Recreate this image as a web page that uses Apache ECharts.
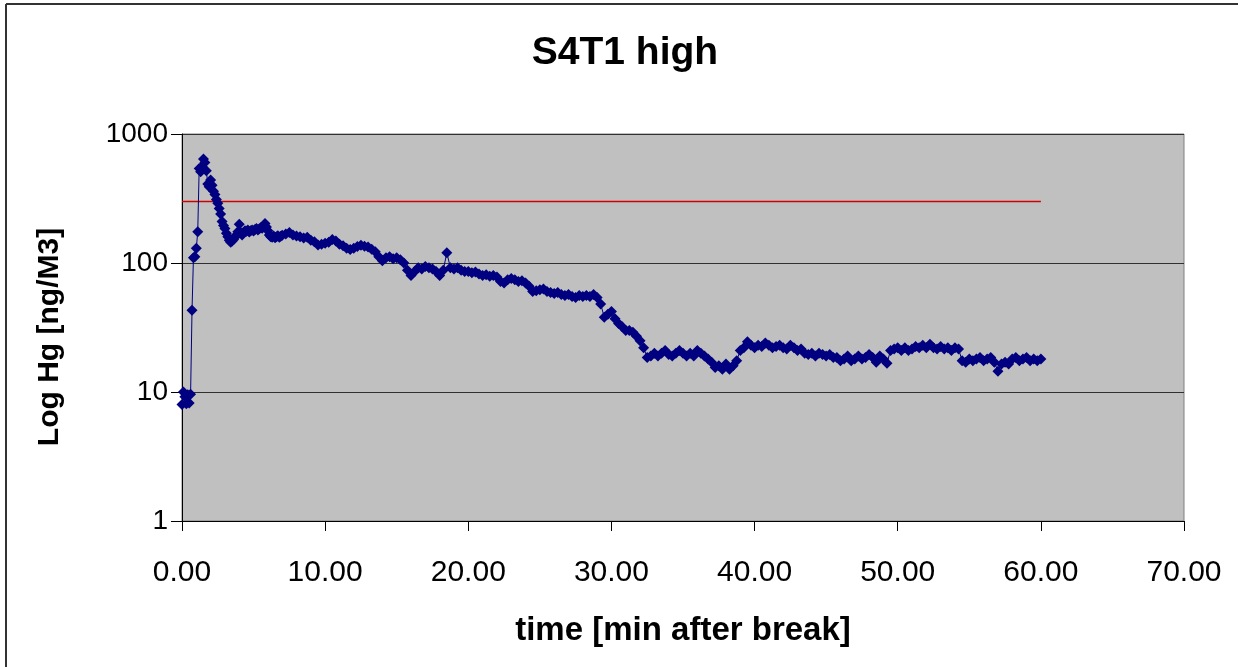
<!DOCTYPE html>
<html>
<head>
<meta charset="utf-8">
<script src="https://cdn.jsdelivr.net/npm/echarts@6/dist/echarts.min.js"></script>
<style>
html,body{margin:0;padding:0;background:#fff;}
#chart{width:1238px;height:667px;}
</style>
</head>
<body>
<div id="chart"></div>
<script>
// time [min after break]
const timeMin = [
0.0,0.1,0.2,0.3,0.4,0.5,0.6,0.7,0.8,0.9,1.0,1.1,1.2,1.3,1.4,1.5,1.6,1.7,1.8,1.9,
2.0,2.1,2.2,2.3,2.4,2.5,2.6,2.7,2.8,2.9,3.0,3.1,3.2,3.3,3.4,3.5,3.6,3.7,3.8,3.9,
4.0,4.1,4.2,4.3,4.4,4.5,4.6,4.7,4.8,4.9,5.0,5.1,5.2,5.3,5.4,5.5,5.6,5.7,5.8,5.9,
6.0,6.1,6.2,6.3,6.4,6.5,6.6,6.7,6.8,6.9,7.0,
7.25,7.5,7.75,8.0,8.25,8.5,8.75,9.0,9.25,9.5,9.75,10.0,10.25,10.5,10.75,11.0,11.25,11.5,11.75,12.0,
12.25,12.5,12.75,13.0,13.25,13.5,13.75,14.0,14.25,14.5,14.75,15.0,15.25,15.5,15.75,16.0,16.25,16.5,16.75,17.0,
17.25,17.5,17.75,18.0,18.25,18.5,18.75,19.0,19.25,19.5,19.75,20.0,20.25,20.5,20.75,21.0,21.25,21.5,21.75,22.0,
22.25,22.5,22.75,23.0,23.25,23.5,23.75,24.0,24.25,24.5,24.75,25.0,25.25,25.5,25.75,26.0,26.25,26.5,26.75,27.0,
27.25,27.5,27.75,28.0,28.25,28.5,28.75,29.0,29.25,29.5,29.75,30.0,30.25,30.5,30.75,31.0,31.25,31.5,31.75,32.0,
32.25,32.5,32.75,33.0,33.25,33.5,33.75,34.0,34.25,34.5,34.75,35.0,35.25,35.5,35.75,36.0,36.25,36.5,36.75,37.0,
37.25,37.5,37.75,38.0,38.25,38.5,38.75,39.0,39.25,39.5,39.75,40.0,40.25,40.5,40.75,41.0,41.25,41.5,41.75,42.0,
42.25,42.5,42.75,43.0,43.25,43.5,43.75,44.0,44.25,44.5,44.75,45.0,45.25,45.5,45.75,46.0,46.25,46.5,46.75,47.0,
47.25,47.5,47.75,48.0,48.25,48.5,48.75,49.0,49.25,49.5,49.75,50.0,50.25,50.5,50.75,51.0,51.25,51.5,51.75,52.0,
52.25,52.5,52.75,53.0,53.25,53.5,53.75,54.0,54.25,54.5,54.75,55.0,55.25,55.5,55.75,56.0,56.25,56.5,56.75,57.0,
57.25,57.5,57.75,58.0,58.25,58.5,58.75,59.0,59.25,59.5,59.75,60.0
];
// Log Hg [ng/M3]
const hgValue = [
8.0,10,9.2,8.1,9.5,8.2,9.6,43,110,112,130,175,540,510,560,640,600,520,410,390,
440,400,360,340,310,290,265,240,210,195,185,170,160,150,145,148,152,158,165,175,
200,172,165,172,178,176,180,174,178,180,177,182,185,180,184,188,186,192,202,190,
178,165,160,158,162,157,160,163,158,161,164,
168,172,165,162,160,156,158,150,146,138,140,142,145,152,148,140,136,130,127,130,
134,137,135,133,128,122,112,104,110,112,108,110,106,100,88,80,86,92,90,94,
92,90,86,80,88,120,92,90,92,88,86,86,84,85,82,80,81,79,80,78,
72,70,74,76,74,72,73,70,66,60,61,62,63,60,59,58,59,57,56,57,
55,54,56,55,56,55,57,54,48,38,40,42,37,34,32,30,30,29,27,25,
22,18.5,19,20,19,20,21,19.5,19,20,21,20,19,20,19,21,20,19,18,17,
15.5,16,15,16.5,15,16,17.5,21,22,24.5,23,22,23,22.5,24,23,22,22.5,23,22,
21.5,23,22,21,21.5,20,19.5,20,19,20,19.5,19,19.5,18.5,18.5,17.5,18,19,17.5,18,
19,18,18.5,19.5,18.5,17,19,18,16.7,21,21.5,22,21,22,21,21.5,22.5,22,23,22,
23.5,22,21.5,22.5,21.5,22,21,22,21.5,17.5,17,18,17.5,18,18.5,17.5,18,18.5,17,14.5,
16.5,17,16.5,18,18.5,17.5,18,18.5,17.5,18,17.5,18
];
const limitTime = [0, 60];
const limitValue = [300, 300];
const xTicks = [0, 10, 20, 30, 40, 50, 60, 70];
const yTicks = [1, 10, 100, 1000];

const chart = echarts.init(document.getElementById('chart'), null, {renderer: 'canvas'});
const FONT = '"Liberation Sans", Arial, sans-serif';
chart.setOption({
  animation: false,
  backgroundColor: '#ffffff',
  title: {
    text: 'S4T1 high',
    left: 620, top: 29, textAlign: 'center',
    textStyle: {fontFamily: FONT, fontWeight: 'bold', fontSize: 39, color: '#000'}
  },
  graphic: [
    {type: 'line', shape: {x1: 6, y1: 4, x2: 1238, y2: 4}, style: {stroke: '#333', lineWidth: 2}},
    {type: 'line', shape: {x1: 6, y1: 4, x2: 6, y2: 667}, style: {stroke: '#333', lineWidth: 2}},
    {type: 'text', x: 50, y: 337, rotation: Math.PI / 2,
      style: {text: 'Log Hg [ng/M3]', fill: '#000', font: 'bold 30px "Liberation Sans", Arial, sans-serif',
        textAlign: 'center', textVerticalAlign: 'middle'}}
  ],
  grid: {
    left: 182, top: 134, width: 1002, height: 387,
    show: true, backgroundColor: '#c0c0c0', borderColor: '#808080', borderWidth: 1
  },
  xAxis: {
    type: 'value', min: xTicks[0], max: xTicks[xTicks.length - 1], interval: 10,
    name: 'time [min after break]', nameLocation: 'middle', nameGap: 93,
    nameTextStyle: {fontFamily: FONT, fontWeight: 'bold', fontSize: 33, color: '#000'},
    axisLine: {show: true, onZero: false, lineStyle: {color: '#000', width: 1}},
    axisTick: {show: true, inside: false, length: 10, lineStyle: {color: '#000'}},
    axisLabel: {margin: 37, fontFamily: FONT, fontSize: 30, color: '#000',
      formatter: v => v.toFixed(2)},
    splitLine: {show: false}
  },
  yAxis: {
    type: 'log', logBase: 10, min: yTicks[0], max: yTicks[yTicks.length - 1],
    axisLine: {show: true, lineStyle: {color: '#000', width: 1}},
    axisTick: {show: true, inside: false, length: 11, lineStyle: {color: '#000'}},
    axisLabel: {margin: 14, fontFamily: FONT, fontSize: 28, color: '#000',
      formatter: v => String(Math.round(v))},
    splitLine: {show: true, lineStyle: {color: '#303030', width: 1}},
    minorTick: {show: false}
  },
  series: [
    {
      type: 'line',
      data: timeMin.map((t, i) => [t, hgValue[i]]),
      symbol: 'diamond', symbolSize: 11,
      showAllSymbol: true,
      lineStyle: {color: '#000080', width: 1},
      itemStyle: {color: '#000080'},
      z: 3
    },
    {
      type: 'line',
      data: limitTime.map((t, i) => [t, limitValue[i]]),
      symbol: 'none',
      lineStyle: {color: '#d00000', width: 1.5},
      z: 2
    }
  ]
});
</script>
</body>
</html>
